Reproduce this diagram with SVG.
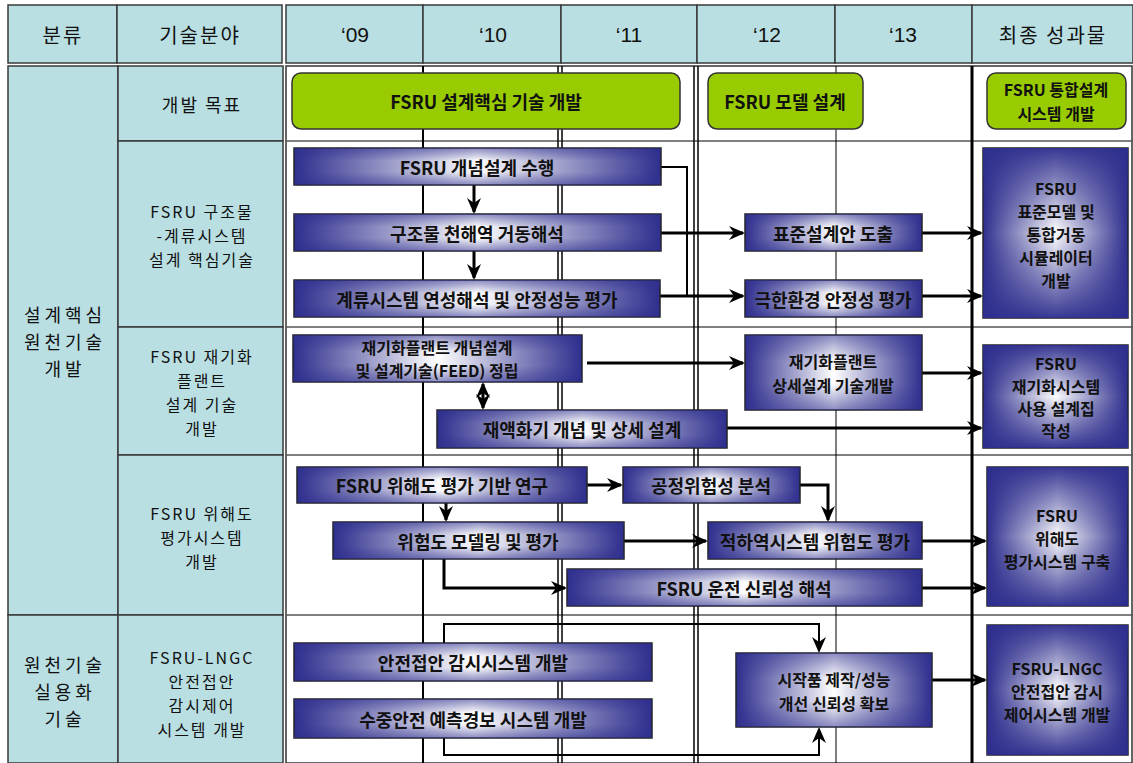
<svg xmlns="http://www.w3.org/2000/svg" width="1133" height="763" viewBox="0 0 1133 763">
<defs>
<style>
.cell{fill:#B9DFE3;stroke:#3a3a3a;stroke-width:1.5}
.t{font-family:"Noto Sans CJK KR","Noto Sans",sans-serif;text-anchor:middle;dominant-baseline:central;fill:#111}
.hdr{font-size:20px;letter-spacing:2px}
.yr{font-family:"Liberation Sans",Arial,sans-serif;font-size:21px}
.c1{font-size:18px;letter-spacing:4px}
.c2{font-size:16px;letter-spacing:2px}
.bx{font-size:18px;font-weight:bold}
.ml{font-size:16px}
.bar{fill:url(#gH);stroke:#222;stroke-width:1.5}
.ov{fill:url(#gV);stroke:none}
.ovb{fill:url(#gV2);stroke:none}
.green{fill:#99CC00;stroke:#333;stroke-width:1.5}
.grid{stroke:#000;fill:none}
.row{stroke:#555;stroke-width:1.5}
.conn{fill:none;stroke:#000;stroke-width:3}
.thin{stroke-width:2}
</style>
<linearGradient id="gH" x1="0" y1="0" x2="1" y2="0">
<stop offset="0" stop-color="#2E2E8E"/>
<stop offset="0.5" stop-color="#FFFFFF"/>
<stop offset="1" stop-color="#2E2E8E"/>
</linearGradient>
<linearGradient id="gV" x1="0" y1="0" x2="0" y2="1">
<stop offset="0" stop-color="#2E2E8E" stop-opacity="0.55"/>
<stop offset="0.35" stop-color="#2E2E8E" stop-opacity="0"/>
<stop offset="0.65" stop-color="#2E2E8E" stop-opacity="0"/>
<stop offset="1" stop-color="#2E2E8E" stop-opacity="0.55"/>
</linearGradient>
<linearGradient id="gV2" x1="0" y1="0" x2="0" y2="1">
<stop offset="0" stop-color="#2E2E8E" stop-opacity="0.95"/>
<stop offset="0.5" stop-color="#2E2E8E" stop-opacity="0"/>
<stop offset="1" stop-color="#2E2E8E" stop-opacity="0.95"/>
</linearGradient>
<marker id="ah" viewBox="0 0 16 14" markerWidth="16" markerHeight="14" refX="14" refY="7" orient="auto-start-reverse" markerUnits="userSpaceOnUse">
<path d="M0,0 L16,7 L0,14 L5,7 z" fill="#000"/>
</marker>
</defs>
<rect width="1133" height="763" fill="#fff"/>

<g id="header">
<rect class="cell" x="8" y="5" width="109" height="58"/>
<rect class="cell" x="117" y="5" width="165" height="58"/>
<rect class="cell" x="286" y="5" width="137" height="58"/>
<rect class="cell" x="423" y="5" width="138" height="58"/>
<rect class="cell" x="561" y="5" width="136" height="58"/>
<rect class="cell" x="697" y="5" width="138" height="58"/>
<rect class="cell" x="835" y="5" width="137" height="58"/>
<rect class="cell" x="972" y="5" width="161" height="58"/>
<text class="t hdr" x="63" y="34">분류</text>
<text class="t hdr" x="200" y="34">기술분야</text>
<text class="t yr" x="355" y="34">‘09</text>
<text class="t yr" x="493" y="34">‘10</text>
<text class="t yr" x="629" y="34">‘11</text>
<text class="t yr" x="767" y="34">‘12</text>
<text class="t yr" x="903" y="34">‘13</text>
<text class="t hdr" x="1053" y="34">최종 성과물</text>
</g>

<g id="left-columns">
<rect class="cell" x="8" y="66" width="110" height="549"/>
<rect class="cell" x="8" y="615" width="110" height="148"/>
<rect class="cell" x="118" y="66" width="165" height="75"/>
<rect class="cell" x="118" y="141" width="165" height="186"/>
<rect class="cell" x="118" y="327" width="165" height="128"/>
<rect class="cell" x="118" y="455" width="165" height="160"/>
<rect class="cell" x="118" y="615" width="165" height="148"/>
<text class="t c1"><tspan x="65" y="314">설계핵심</tspan><tspan x="65" y="341">원천기술</tspan><tspan x="65" y="368">개발</tspan></text>
<text class="t c1"><tspan x="65" y="664">원천기술</tspan><tspan x="65" y="691">실용화</tspan><tspan x="65" y="718">기술</tspan></text>
<text class="t c2" x="202" y="104" style="font-size:18px">개발 목표</text>
<text class="t c2"><tspan x="202" y="211">FSRU 구조물</tspan><tspan x="202" y="235">-계류시스템</tspan><tspan x="202" y="259">설계 핵심기술</tspan></text>
<text class="t c2"><tspan x="202" y="356">FSRU 재기화</tspan><tspan x="202" y="380">플랜트</tspan><tspan x="202" y="404">설계 기술</tspan><tspan x="202" y="428">개발</tspan></text>
<text class="t c2"><tspan x="202" y="513">FSRU 위해도</tspan><tspan x="202" y="537">평가시스템</tspan><tspan x="202" y="561">개발</tspan></text>
<text class="t c2"><tspan x="202" y="657">FSRU-LNGC</tspan><tspan x="202" y="681">안전접안</tspan><tspan x="202" y="705">감시제어</tspan><tspan x="202" y="729">시스템 개발</tspan></text>
</g>

<g id="grid">
<rect x="286" y="66" width="846" height="697" fill="#fff" stroke="#333" stroke-width="1.5"/>
<line class="row" x1="286" y1="141" x2="1133" y2="141"/>
<line class="row" x1="286" y1="327" x2="1133" y2="327"/>
<line class="row" x1="286" y1="455" x2="1133" y2="455"/>
<line class="row" x1="286" y1="615" x2="1133" y2="615"/>
<line class="grid" x1="423" y1="66" x2="423" y2="763" stroke-width="2"/>
<line class="grid" x1="558" y1="66" x2="558" y2="763" stroke-width="1.5"/>
<line class="grid" x1="562" y1="66" x2="562" y2="763" stroke-width="1.5"/>
<line class="grid" x1="694" y1="66" x2="694" y2="763" stroke-width="1.5"/>
<line class="grid" x1="698" y1="66" x2="698" y2="763" stroke-width="1.5"/>
<line class="grid" x1="836" y1="66" x2="836" y2="763" stroke-width="1" stroke="#333"/>
<line class="grid" x1="972" y1="66" x2="972" y2="763" stroke-width="3"/>
</g>

<g id="goal1"><rect class="green" x="292" y="73" width="388" height="56" rx="9"/><text class="t bx" x="486" y="101">FSRU 설계핵심 기술 개발</text></g>
<g id="goal2"><rect class="green" x="708" y="73" width="155" height="56" rx="9"/><text class="t bx" x="785" y="101">FSRU 모델 설계</text></g>
<g id="goal3"><rect class="green" x="987" y="73" width="139" height="56" rx="9"/><text class="t bx ml"><tspan x="1056" y="89">FSRU 통합설계</tspan><tspan x="1056" y="113">시스템 개발</tspan></text></g>

<g id="connectors">
<line class="conn" x1="474" y1="185" x2="474" y2="212" marker-end="url(#ah)"/>
<line class="conn" x1="474" y1="251" x2="474" y2="278" marker-end="url(#ah)"/>
<polyline class="conn thin" points="661,167 687,167 687,296"/>
<line class="conn" x1="661" y1="233" x2="743" y2="233" marker-end="url(#ah)"/>
<line class="conn" x1="660" y1="296" x2="743" y2="296" marker-end="url(#ah)"/>
<line class="conn" x1="922" y1="233" x2="981" y2="233" marker-end="url(#ah)"/>
<line class="conn" x1="922" y1="296" x2="981" y2="296" marker-end="url(#ah)"/>
<line class="conn" x1="483" y1="384" x2="483" y2="408" marker-start="url(#ah)" marker-end="url(#ah)"/>
<line class="conn" x1="587" y1="363" x2="743" y2="363" marker-end="url(#ah)"/>
<line class="conn" x1="922" y1="373" x2="981" y2="373" marker-end="url(#ah)"/>
<line class="conn" x1="727" y1="428" x2="981" y2="428" marker-end="url(#ah)"/>
<line class="conn" x1="587" y1="485" x2="621" y2="485" marker-end="url(#ah)"/>
<line class="conn" x1="446" y1="503" x2="446" y2="520" marker-end="url(#ah)"/>
<line class="conn" x1="624" y1="541" x2="706" y2="541" marker-end="url(#ah)"/>
<polyline class="conn" points="444,559 444,588 565,588" marker-end="url(#ah)"/>
<polyline class="conn" points="800,485 828,485 828,520" marker-end="url(#ah)"/>
<line class="conn" x1="922" y1="541" x2="985" y2="541" marker-end="url(#ah)"/>
<line class="conn" x1="922" y1="588" x2="985" y2="588" marker-end="url(#ah)"/>
<polyline class="conn thin" points="444,643 444,624 819,624 819,651" marker-end="url(#ah)"/>
<polyline class="conn thin" points="444,738 444,755 819,755 819,729" marker-end="url(#ah)"/>
<line class="conn" x1="932" y1="680" x2="985" y2="680" marker-end="url(#ah)"/>
</g>

<g id="n1"><rect class="bar" x="294" y="148" width="367" height="37"/><rect class="ov" x="294" y="148" width="367" height="37"/><text class="t bx" x="477" y="167">FSRU 개념설계 수행</text></g>
<g id="n2"><rect class="bar" x="294" y="214" width="367" height="37"/><rect class="ov" x="294" y="214" width="367" height="37"/><text class="t bx" x="477" y="233">구조물 천해역 거동해석</text></g>
<g id="n3"><rect class="bar" x="294" y="280" width="366" height="37"/><rect class="ov" x="294" y="280" width="366" height="37"/><text class="t bx" x="477" y="299">계류시스템 연성해석 및 안정성능 평가</text></g>
<g id="n4"><rect class="bar" x="745" y="214" width="177" height="37"/><rect class="ov" x="745" y="214" width="177" height="37"/><text class="t bx" x="833" y="233">표준설계안 도출</text></g>
<g id="n5"><rect class="bar" x="745" y="280" width="177" height="37"/><rect class="ov" x="745" y="280" width="177" height="37"/><text class="t bx" x="833" y="299">극한환경 안정성 평가</text></g>
<g id="f1"><rect class="bar" x="983" y="148" width="145" height="170"/><rect class="ovb" x="983" y="148" width="145" height="170"/><text class="t bx ml"><tspan x="1056" y="188">FSRU</tspan><tspan x="1056" y="211">표준모델 및</tspan><tspan x="1056" y="234">통합거동</tspan><tspan x="1056" y="257">시뮬레이터</tspan><tspan x="1056" y="280">개발</tspan></text></g>

<g id="n6"><rect class="bar" x="293" y="335" width="289" height="47"/><rect class="ov" x="293" y="335" width="289" height="47"/><text class="t bx ml"><tspan x="437" y="347">재기화플랜트 개념설계</tspan><tspan x="437" y="370">및 설계기술(FEED) 정립</tspan></text></g>
<g id="n7"><rect class="bar" x="437" y="410" width="290" height="38"/><rect class="ov" x="437" y="410" width="290" height="38"/><text class="t bx" x="582" y="429">재액화기 개념 및 상세 설계</text></g>
<g id="n8"><rect class="bar" x="745" y="335" width="177" height="75"/><rect class="ov" x="745" y="335" width="177" height="75"/><text class="t bx ml"><tspan x="833" y="361">재기화플랜트</tspan><tspan x="833" y="385">상세설계 기술개발</tspan></text></g>
<g id="f2"><rect class="bar" x="983" y="345" width="145" height="103"/><rect class="ovb" x="983" y="345" width="145" height="103"/><text class="t bx ml"><tspan x="1056" y="363">FSRU</tspan><tspan x="1056" y="386">재기화시스템</tspan><tspan x="1056" y="408">사용 설계집</tspan><tspan x="1056" y="430">작성</tspan></text></g>

<g id="n9"><rect class="bar" x="297" y="467" width="290" height="36"/><rect class="ov" x="297" y="467" width="290" height="36"/><text class="t bx" x="442" y="485">FSRU 위해도 평가 기반 연구</text></g>
<g id="n10"><rect class="bar" x="623" y="467" width="177" height="36"/><rect class="ov" x="623" y="467" width="177" height="36"/><text class="t bx" x="711" y="485">공정위험성 분석</text></g>
<g id="n11"><rect class="bar" x="333" y="522" width="291" height="37"/><rect class="ov" x="333" y="522" width="291" height="37"/><text class="t bx" x="478" y="541">위험도 모델링 및 평가</text></g>
<g id="n12"><rect class="bar" x="708" y="522" width="214" height="37"/><rect class="ov" x="708" y="522" width="214" height="37"/><text class="t bx" x="815" y="541">적하역시스템 위험도 평가</text></g>
<g id="n13"><rect class="bar" x="567" y="569" width="355" height="37"/><rect class="ov" x="567" y="569" width="355" height="37"/><text class="t bx" x="744" y="588">FSRU 운전 신뢰성 해석</text></g>
<g id="f3"><rect class="bar" x="987" y="467" width="141" height="139"/><rect class="ovb" x="987" y="467" width="141" height="139"/><text class="t bx ml"><tspan x="1057" y="515">FSRU</tspan><tspan x="1057" y="538">위해도</tspan><tspan x="1057" y="561">평가시스템 구축</tspan></text></g>

<g id="n14"><rect class="bar" x="294" y="643" width="358" height="38"/><rect class="ov" x="294" y="643" width="358" height="38"/><text class="t bx" x="473" y="662">안전접안 감시시스템 개발</text></g>
<g id="n15"><rect class="bar" x="294" y="699" width="358" height="39"/><rect class="ov" x="294" y="699" width="358" height="39"/><text class="t bx" x="473" y="719">수중안전 예측경보 시스템 개발</text></g>
<g id="n16"><rect class="bar" x="736" y="653" width="196" height="74"/><rect class="ov" x="736" y="653" width="196" height="74"/><text class="t bx ml"><tspan x="834" y="679">시작품 제작/성능</tspan><tspan x="834" y="703">개선 신뢰성 확보</tspan></text></g>
<g id="f4"><rect class="bar" x="987" y="625" width="141" height="130"/><rect class="ovb" x="987" y="625" width="141" height="130"/><text class="t bx ml"><tspan x="1057" y="668">FSRU-LNGC</tspan><tspan x="1057" y="691">안전접안 감시</tspan><tspan x="1057" y="714">제어시스템 개발</tspan></text></g>
</svg>
